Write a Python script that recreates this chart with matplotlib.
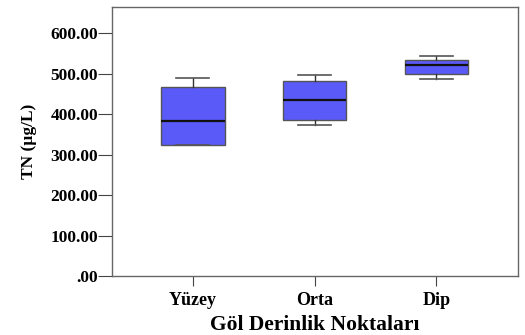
import matplotlib.pyplot as plt

plt.rcParams['font.family'] = ['Liberation Serif', 'DejaVu Serif']
plt.rcParams['font.weight'] = 'bold'

categories = ['Yüzey', 'Orta', 'Dip']
whis_low = [323, 374, 488]
q1 = [323, 386, 500]
median = [384, 434, 521]
q3 = [467, 482, 535]
whis_high = [490, 496, 544]

stats = []
for i in range(len(categories)):
    stats.append({'label': categories[i], 'whislo': whis_low[i], 'q1': q1[i],
                  'med': median[i], 'q3': q3[i], 'whishi': whis_high[i], 'fliers': []})

fig = plt.figure(figsize=(5.25, 3.35), dpi=100)
ax = fig.add_axes([0.2133, 0.176, 0.7734, 0.803])

ax.bxp(stats, positions=[1, 2, 3], widths=0.52, patch_artist=True, showfliers=False,
       boxprops=dict(facecolor='#5a5af8', edgecolor='#555555', linewidth=1.0),
       medianprops=dict(color='#111111', linewidth=1.6),
       whiskerprops=dict(color='#333333', linewidth=1.0),
       capprops=dict(color='#555555', linewidth=1.2),
       capwidths=0.27)

ax.set_xlim(0.336, 3.67)
ax.set_ylim(0, 665)
ax.set_yticks([0, 100, 200, 300, 400, 500, 600])
ax.set_yticklabels(['.00', '100.00', '200.00', '300.00', '400.00', '500.00', '600.00'])
ax.set_xticks([1, 2, 3])
ax.set_xticklabels(categories)

for side in ['top', 'right', 'left', 'bottom']:
    ax.spines[side].set_color('#666666')
    ax.spines[side].set_linewidth(1.0)

ax.tick_params(axis='y', direction='out', length=10, pad=0, color='#444444',
               labelsize=12.5, labelcolor='black')
ax.tick_params(axis='x', direction='out', length=7.5, pad=4, color='#444444',
               labelsize=13, labelcolor='black')
ax.set_xlabel('Göl Derinlik Noktaları', fontsize=15.5, fontweight='bold', labelpad=4)
ax.set_ylabel('TN (µg/L)', fontsize=12.5, fontweight='bold', labelpad=10)

fig.savefig('out.png', dpi=100)
